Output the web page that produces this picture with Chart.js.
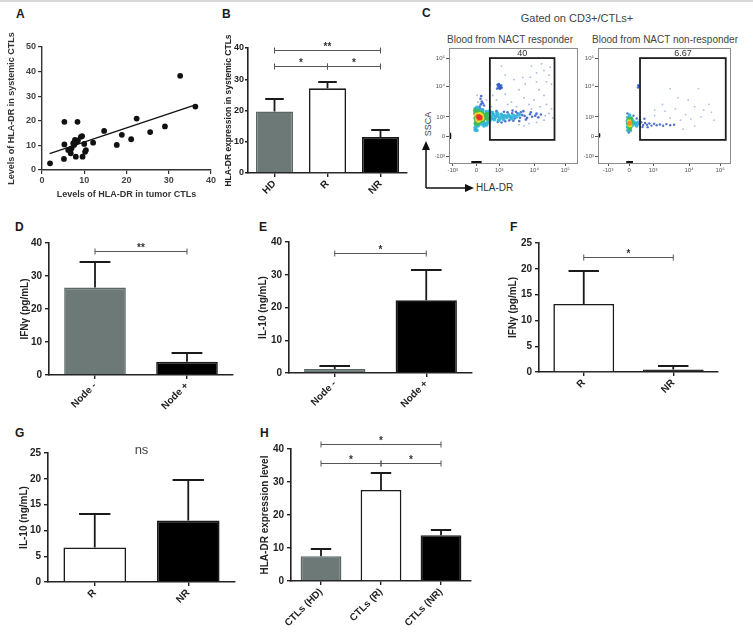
<!DOCTYPE html>
<html>
<head>
<meta charset="utf-8">
<script src="https://cdn.jsdelivr.net/npm/chart.js@4.4.1/dist/chart.umd.min.js"></script>
<style>
  body { margin: 0; background: #fff; }
  #page { position: relative; width: 753px; height: 633px; overflow: hidden; background: #fff; }
  .txt { position: absolute; font-family: 'Liberation Sans', Arial, sans-serif; white-space: nowrap; }
  .letter { font-weight: bold; font-size: 12px; color: #1a1a1a; }
</style>
</head>
<body>
<div id="page">
  <div style="position:absolute;left:0;top:0;width:753px;height:2px;background:#d9d9d9"></div>

  <div class="txt letter" style="left:16px;top:7px">A</div>
  <div class="txt letter" style="left:222px;top:7px">B</div>
  <div class="txt letter" style="left:422px;top:6px">C</div>
  <div class="txt letter" style="left:15px;top:220px">D</div>
  <div class="txt letter" style="left:259px;top:220px">E</div>
  <div class="txt letter" style="left:510px;top:220px">F</div>
  <div class="txt letter" style="left:15px;top:426px">G</div>
  <div class="txt letter" style="left:260px;top:426px">H</div>

  <div class="txt" style="left:520px;top:12px;width:114px;text-align:center;font-size:11px;color:#444">Gated on CD3+/CTLs+</div>
  <div class="txt" style="left:440px;top:34px;width:140px;text-align:center;font-size:10px;color:#444">Blood from NACT responder</div>
  <div class="txt" style="left:590px;top:34px;width:150px;text-align:center;font-size:10px;color:#444">Blood from NACT non-responder</div>
  <div class="txt" style="left:413px;top:119px;width:30px;text-align:center;font-size:9px;color:#444;transform:rotate(-90deg)">SSCA</div>
  <div class="txt" style="left:476px;top:182px;font-size:10px;color:#333">HLA-DR</div>
  <svg style="position:absolute;left:420px;top:136px" width="60" height="58">
    <line x1="6" y1="52" x2="6" y2="12" stroke="#111" stroke-width="1.5"/>
    <polygon points="6,5 2,14 10,14" fill="#111"/>
    <line x1="6" y1="52" x2="46" y2="52" stroke="#111" stroke-width="1.5"/>
    <polygon points="54,52 45,48 45,56" fill="#111"/>
  </svg>
</div>

<script>
Chart.defaults.font.family = "'Liberation Sans', Arial, sans-serif";
Chart.defaults.color = '#222';
Chart.defaults.animation = false;
Chart.defaults.plugins.legend.display = false;
Chart.defaults.plugins.tooltip.enabled = false;

const GREY = '#6c7977';

// A - scatter
const scatterX = [1.9, 5.3, 8.4, 5.3, 5.2, 6.2, 6.8, 7.0, 7.4, 7.8, 8.2, 7.6, 8.0, 9.5, 9.6, 10.0, 10.4, 10.2, 12.1, 14.7, 17.7, 18.9, 21.1, 22.4, 25.6, 29.1, 32.7, 36.3, 7.9, 8.5, 9.2];
const scatterY = [2.7, 19.6, 19.6, 10.4, 4.5, 8.1, 6.8, 8.8, 10.9, 12.2, 11.5, 10.2, 5.4, 13.8, 5.4, 10.6, 8.1, 7.4, 11.1, 15.9, 10.2, 14.3, 12.5, 20.9, 15.4, 17.7, 38.3, 25.8, 11.0, 12.0, 13.5];
const trendX = [1.8, 36.3];
const trendY = [6.7, 26.5];

// B
const bLabels = ['HD', 'R', 'NR'];
const bValues = [19.7, 27.1, 11.5];
const bErrors = [3.9, 2.1, 2.3];
// D
const dLabels = ['Node -', 'Node +'];
const dValues = [26.5, 4.0];
const dErrors = [7.7, 2.7];
// E
const eLabels = ['Node -', 'Node +'];
const eValues = [1.2, 22.2];
const eErrors = [1.0, 9.2];
// F
const fLabels = ['R', 'NR'];
const fValues = [13.2, 0.5];
const fErrors = [6.45, 0.7];
// G
const gLabels = ['R', 'NR'];
const gValues = [6.7, 11.9];
const gErrors = [6.5, 7.8];
// H
const hLabels = ['CTLs (HD)', 'CTLs (R)', 'CTLs (NR)'];
const hValues = [7.5, 27.6, 13.9];
const hErrors = [2.1, 5.0, 1.5];

// C - flow events in display channels (0-1024)
const flowTickLabels = ['-10³', '0', '10³', '10⁴', '10⁵'];
const respXTicks = [30, 220, 402, 683, 930];
const nonXTicks = [78, 241, 427, 706, 947];
const flowYTicks = [58, 234, 409, 681, 927];

const respRed = [[238,410],[246,404]];
const respOrange = [[230,415],[252,400],[240,395]];
const respYellow = [[222,425],[258,420],[228,392],[262,398],[245,432],[235,380]];
const respGreen = [[212,440],[214,400],[220,375],[235,455],[262,445],[275,425],[282,400],[270,378],[248,368],[290,415],[300,432],[212,465],[230,350],[305,395],[215,350]];
const respCyan = [[210,480],[222,492],[240,478],[268,470],[298,455],[318,440],[330,415],[342,395],[325,375],[310,360],[285,352],[258,345],[232,330],[212,318],[210,295],[222,290],[355,425],[372,408],[388,420],[405,400],[418,430],[362,385],[348,445],[428,410],[445,420],[462,405],[435,388],[385,442],[398,378],[475,425],[492,410],[500,395],[520,420],[540,410],[560,430],[300,340],[280,330],[325,460]];
const respBlue = [[505,440],[525,395],[548,440],[568,402],[585,425],[605,418],[625,400],[648,432],[665,410],[690,420],[715,405],[735,430],[515,375],[535,455],[575,450],[615,385],[655,450],[700,438],[482,378],[468,450],[450,370],[508,465],[562,372],[595,460],[420,360],[440,455],[390,365],[380,460],[250,480],[255,520],[262,545],[252,570],[270,530],[258,595],[245,500],[280,510],[268,470],[395,680],[405,690],[412,674],[400,664],[418,688],[388,695],[422,668],[385,660],[398,700],[410,658]];
const respSparse = [[380,560],[450,610],[500,540],[560,650],[610,700],[650,760],[700,800],[760,820],[800,780],[780,720],[720,650],[680,560],[600,580],[540,500],[470,520],[640,520],[760,600],[820,700],[810,850],[740,880],[660,860],[590,760],[520,740],[450,780],[420,860],[700,720],[780,520],[820,480],[730,500],[350,600],[330,700],[300,560],[340,500],[230,540],[225,600],[770,420],[800,440],[830,400],[700,360],[640,350],[760,380],[560,340],[600,330],[660,480]];
const respEdge = [[190,6],[205,6],[220,6],[235,6],[250,6],[6,225],[6,240],[6,255]];

const nonOrange = [[245,352]];
const nonYellow = [[242,368],[248,336]];
const nonGreen = [[238,385],[252,322],[235,350],[258,358],[245,305],[255,395]];
const nonCyan = [[232,405],[245,425],[265,380],[270,338],[230,320],[280,362],[292,348],[232,290],[250,288],[228,372],[300,330],[310,360]];
const nonBlue = [[320,345],[335,362],[350,338],[365,355],[380,340],[398,350],[415,332],[435,348],[455,335],[480,342],[505,330],[530,345],[560,335],[590,340],[325,385],[345,320],[360,392],[385,318],[300,395],[275,420],[228,440],[238,270],[310,670],[318,680],[312,690]];
const nonSparse = [[440,420],[520,460],[600,480],[680,430],[750,500],[820,470],[880,450],[560,400],[640,380],[720,390],[800,410],[700,560],[620,580],[860,520],[500,520],[780,660],[560,660],[440,470],[660,300],[750,330],[900,380]];
const nonEdge = [[230,6],[245,6],[260,6],[6,238],[6,252]];

const respGate = [327, 844, 205, 931];
const nonGate = [326, 991, 205, 931];

function makeCanvas(left, top, w, h) {
    const c = document.createElement('canvas');
    c.width = Math.round(w);
    c.height = Math.round(h);
    c.style.cssText = 'position:absolute;left:' + Math.round(left) + 'px;top:' + Math.round(top) + 'px;';
    document.getElementById('page').appendChild(c);
    return c;
}

// error whiskers (upper only) and significance brackets
function barExtras(errors, brackets) {
    return {
        id: 'barExtras',
        afterDatasetsDraw(chart) {
            const ctx = chart.ctx, ys = chart.scales.y;
            const meta = chart.getDatasetMeta(0);
            const vals = chart.data.datasets[0].data;
            ctx.save();
            ctx.strokeStyle = '#1a1a1a';
            ctx.lineWidth = 1.8;
            errors.forEach((e, i) => {
                const bar = meta.data[i];
                const yTop = Math.round(ys.getPixelForValue(vals[i] + e));
                const half = bar.width / 4;
                ctx.beginPath();
                ctx.moveTo(bar.x, bar.y);
                ctx.lineTo(bar.x, yTop);
                ctx.moveTo(bar.x - half, yTop);
                ctx.lineTo(bar.x + half, yTop);
                ctx.stroke();
            });
            ctx.lineWidth = 1;
            ctx.strokeStyle = '#555';
            ctx.textAlign = 'center';
            brackets.forEach(([a, b, v, txt, noLine]) => {
                const x0 = meta.data[a].x, x1 = meta.data[b].x;
                const y = Math.round(ys.getPixelForValue(v)) + 0.5;
                if (!noLine) {
                    ctx.beginPath();
                    ctx.moveTo(x0, y); ctx.lineTo(x1, y);
                    ctx.moveTo(x0, y - 3); ctx.lineTo(x0, y + 3);
                    ctx.moveTo(x1, y - 3); ctx.lineTo(x1, y + 3);
                    ctx.stroke();
                    ctx.font = "bold 10px 'Liberation Sans', Arial";
                    ctx.fillStyle = '#333';
                    ctx.textBaseline = 'bottom';
                    ctx.fillText(txt, (x0 + x1) / 2, y + 2);
                } else {
                    ctx.font = "13px 'Liberation Sans', Arial";
                    ctx.fillStyle = '#444';
                    ctx.textBaseline = 'middle';
                    ctx.fillText(txt, (x0 + x1) / 2, y);
                }
            });
            ctx.restore();
        }
    };
}

function barPanel(o) {
    const [l, t, r, b] = o.area;
    const padTop = 40, padRight = 10, xH = 58;
    const left = o.titleLeft, top = t - padTop;
    const cv = makeCanvas(left, top, r + padRight - left, b + xH - top);
    const axisFont = { size: 10, weight: 'bold' };
    new Chart(cv, {
        type: 'bar',
        data: {
            labels: o.labels,
            datasets: [{
                data: o.values,
                backgroundColor: o.colors,
                borderColor: o.colors.map(c => c === GREY ? '#5b6765' : '#1a1a1a'),
                borderWidth: 1.6,
                barPercentage: 1,
                categoryPercentage: o.frac
            }]
        },
        options: {
            responsive: false,
            layout: { padding: { top: padTop, right: padRight, left: 0, bottom: 0 } },
            scales: {
                x: {
                    border: { color: '#222', width: 1.6 },
                    grid: { drawOnChartArea: false, offset: false, color: '#222', tickLength: 4, lineWidth: 1.4 },
                    ticks: { minRotation: 45, maxRotation: 45, padding: 1, font: axisFont, color: '#222' },
                    afterFit: s => { s.height = xH; s.paddingLeft = 0; s.paddingRight = 0; }
                },
                y: {
                    min: 0,
                    max: o.max,
                    border: { color: '#222', width: 1.6 },
                    grid: { drawOnChartArea: false, color: '#222', tickLength: o.tickLen || 4, lineWidth: 1.4 },
                    ticks: { stepSize: o.step, padding: o.tickPad === undefined ? 3 : o.tickPad, font: { size: o.tickSize || 10, weight: 'bold' }, color: '#222' },
                    title: { display: true, text: o.yTitle, font: { size: o.titleSize || 10, weight: 'bold' }, color: '#222', padding: 0 },
                    afterFit: s => { s.width = l - left; s.paddingTop = 0; s.paddingBottom = 0; }
                }
            }
        },
        plugins: [barExtras(o.errors, o.brackets)]
    });
}

// A
(function () {
    const cv = makeCanvas(6, 20, 217, 180);
    const f = { size: 9, weight: 'bold' };
    new Chart(cv, {
        type: 'scatter',
        data: {
            datasets: [
                {
                    data: scatterX.map((x, i) => ({ x: x, y: scatterY[i] })),
                    backgroundColor: '#111',
                    pointRadius: 2.9,
                    pointBorderWidth: 0
                },
                {
                    data: trendX.map((x, i) => ({ x: x, y: trendY[i] })),
                    showLine: true,
                    borderColor: '#111',
                    borderWidth: 1.3,
                    pointRadius: 0
                }
            ]
        },
        options: {
            responsive: false,
            layout: { padding: { top: 27, right: 12, left: 0, bottom: 0 } },
            scales: {
                x: {
                    min: 0, max: 40,
                    ticks: { stepSize: 10, font: f, color: '#444', padding: 1 },
                    grid: { drawOnChartArea: false, color: '#333', tickLength: 4, lineWidth: 1.2 },
                    border: { color: '#333', width: 1.4 },
                    title: { display: true, text: 'Levels of HLA-DR in tumor CTLs', font: f, color: '#333', padding: 0 },
                    afterFit: s => { s.height = 30; s.paddingLeft = 0; s.paddingRight = 0; }
                },
                y: {
                    min: 0, max: 50,
                    ticks: { stepSize: 10, font: f, color: '#444', padding: 2 },
                    grid: { drawOnChartArea: false, color: '#333', tickLength: 4, lineWidth: 1.2 },
                    border: { color: '#333', width: 1.4 },
                    title: { display: true, text: 'Levels of HLA-DR in systemic CTLs', font: f, color: '#333', padding: 0 },
                    afterFit: s => { s.width = 36; s.paddingTop = 0; s.paddingBottom = 0; }
                }
            }
        }
    });
})();

barPanel({ area: [248, 48, 407, 173], titleLeft: 224, titleSize: 8.5, tickSize: 9, tickLen: 3, tickPad: 1,
    labels: bLabels, values: bValues, errors: bErrors,
    colors: [GREY, '#ffffff', '#000000'], frac: 0.7, max: 40, step: 10,
    yTitle: 'HLA-DR expression in systemic CTLs',
    brackets: [[0, 2, 39.3, '**'], [0, 1, 34.1, '*'], [1, 2, 34.1, '*']] });

barPanel({ area: [49, 243, 233, 375], titleLeft: 19, labels: dLabels, values: dValues, errors: dErrors,
    colors: [GREY, '#000000'], frac: 0.67, max: 40, step: 10,
    yTitle: 'IFNγ (pg/mL)', brackets: [[0, 1, 37.6, '**']] });

barPanel({ area: [289, 242, 472, 373], titleLeft: 257, labels: eLabels, values: eValues, errors: eErrors,
    colors: [GREY, '#000000'], frac: 0.67, max: 40, step: 10,
    yTitle: 'IL-10 (ng/mL)', brackets: [[0, 1, 36.5, '*']] });

barPanel({ area: [539, 243, 718, 372], titleLeft: 507, labels: fLabels, values: fValues, errors: fErrors,
    colors: ['#ffffff', '#000000'], frac: 0.68, max: 25, step: 5,
    yTitle: 'IFNγ (pg/mL)', brackets: [[0, 1, 22.2, '*']] });

barPanel({ area: [48, 453, 235, 582], titleLeft: 18, labels: gLabels, values: gValues, errors: gErrors,
    colors: ['#ffffff', '#000000'], frac: 0.67, max: 25, step: 5,
    yTitle: 'IL-10 (ng/mL)', brackets: [[0, 1, 25.5, 'ns', true]] });

barPanel({ area: [291, 449, 471, 581], titleLeft: 259, labels: hLabels, values: hValues, errors: hErrors,
    colors: [GREY, '#ffffff', '#000000'], frac: 0.68, max: 40, step: 10,
    yTitle: 'HLA-DR expression level',
    brackets: [[0, 2, 41.6, '*'], [0, 1, 35.8, '*'], [1, 2, 35.8, '*']] });

// C - flow plots
function flowFrame(gate, label) {
    return {
        id: 'flowFrame',
        afterDatasetsDraw(chart) {
            const ctx = chart.ctx, a = chart.chartArea;
            const xs = chart.scales.x, ys = chart.scales.y;
            ctx.save();
            ctx.strokeStyle = '#8c8c8c';
            ctx.lineWidth = 1;
            ctx.strokeRect(Math.round(a.left) + 0.5, Math.round(a.top) + 0.5, Math.round(a.width), Math.round(a.height));
            const x0 = xs.getPixelForValue(gate[0]), x1 = xs.getPixelForValue(gate[1]);
            const y0 = ys.getPixelForValue(gate[2]), y1 = ys.getPixelForValue(gate[3]);
            ctx.strokeStyle = '#1e1e1e';
            ctx.lineWidth = 1.8;
            ctx.strokeRect(x0, y1, x1 - x0, y0 - y1);
            ctx.fillStyle = '#333';
            ctx.font = "9px 'Liberation Sans', Arial";
            ctx.textAlign = 'center';
            ctx.textBaseline = 'bottom';
            ctx.fillText(label, (x0 + x1) / 2, y1);
            ctx.restore();
        }
    };
}

function flowPanel(o) {
    const [l, t, r, b] = o.area;
    const left = l - 14, top = t - 4;
    const cv = makeCanvas(left, top, r + 4 - left, b + 14 - top);
    const tf = { size: 6 };
    new Chart(cv, {
        type: 'scatter',
        data: {
            datasets: o.layers.map(ly => ({
                data: ly[0].map(p => ({ x: p[0], y: p[1] })),
                backgroundColor: ly[1],
                pointRadius: ly[2],
                pointStyle: ly[3] || 'circle',
                pointBorderWidth: 0
            }))
        },
        options: {
            responsive: false,
            layout: { padding: { top: 4, right: 4, left: 0, bottom: 0 } },
            scales: {
                x: {
                    min: 0, max: 1024,
                    afterBuildTicks: s => { s.ticks = o.xTicks.map(v => ({ value: v })); },
                    ticks: { callback: (v, i) => flowTickLabels[i], font: tf, color: '#555', padding: 1, autoSkip: false, maxRotation: 0 },
                    grid: { drawOnChartArea: false, color: '#555', tickLength: 3 },
                    border: { display: false },
                    afterFit: s => { s.height = 14; s.paddingLeft = 0; s.paddingRight = 0; }
                },
                y: {
                    min: 0, max: 1024,
                    afterBuildTicks: s => { s.ticks = flowYTicks.map(v => ({ value: v })); },
                    ticks: { callback: (v, i) => flowTickLabels[i], font: tf, color: '#555', padding: 1, autoSkip: false },
                    grid: { drawOnChartArea: false, color: '#555', tickLength: 3 },
                    border: { display: false },
                    afterFit: s => { s.width = 14; }
                }
            }
        },
        plugins: [flowFrame(o.gate, o.gateLabel)]
    });
}

flowPanel({ area: [449, 47, 577, 163], xTicks: respXTicks, gate: respGate, gateLabel: '40',
    layers: [
        [respEdge, '#111111', 2, 'rect'],
        [respRed, '#e3302a', 2.6],
        [respOrange, '#f39a22', 2.6],
        [respYellow, '#e6d82c', 2.6],
        [respGreen, '#3dba5a', 2.4],
        [respCyan, 'rgba(43,178,216,0.9)', 2],
        [respBlue, 'rgba(37,82,192,0.8)', 1.3],
        [respSparse, 'rgba(110,140,215,0.65)', 0.9]
    ] });

flowPanel({ area: [598, 47, 730, 163], xTicks: nonXTicks, gate: nonGate, gateLabel: '6.67',
    layers: [
        [nonEdge, '#111111', 2, 'rect'],
        [nonOrange, '#f0902a', 2.5],
        [nonYellow, '#e6d82c', 2.4],
        [nonGreen, '#3dba5a', 2.3],
        [nonCyan, 'rgba(43,178,216,0.9)', 1.9],
        [nonBlue, 'rgba(37,82,192,0.8)', 1.2],
        [nonSparse, 'rgba(120,150,220,0.6)', 0.9]
    ] });
</script>
</body>
</html>
